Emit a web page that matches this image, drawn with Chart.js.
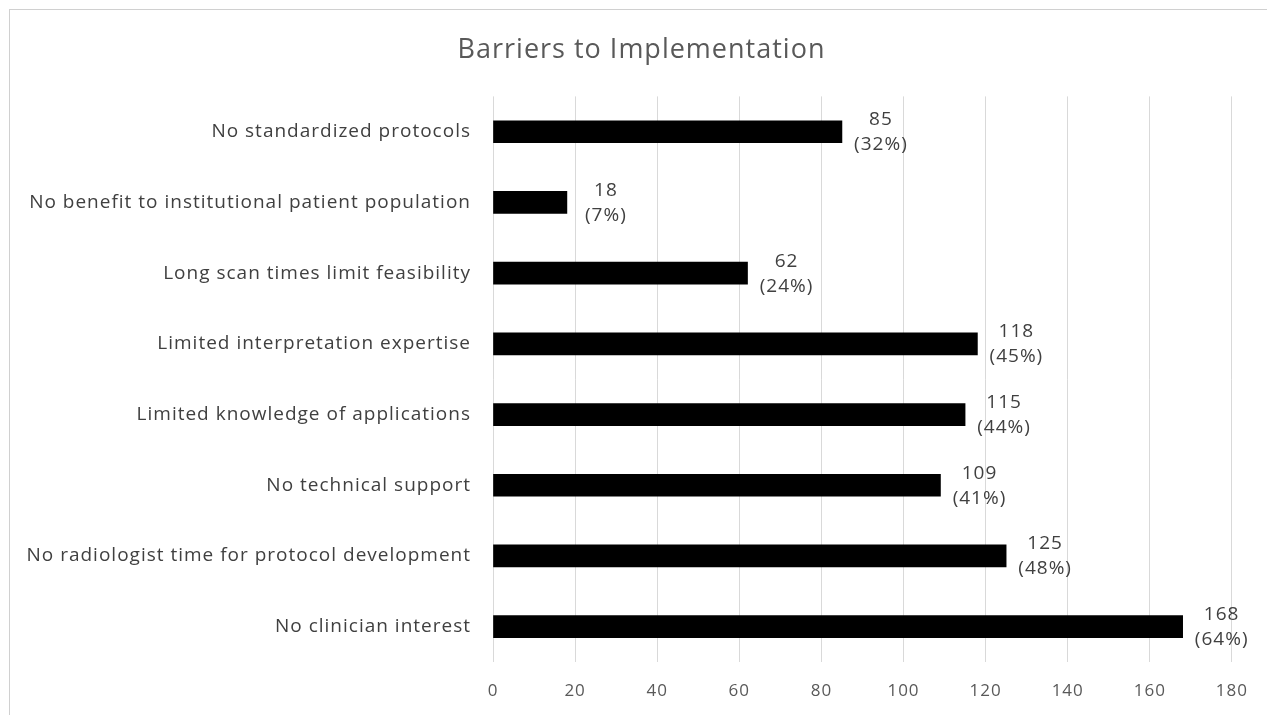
<!DOCTYPE html>
<html>
<head>
<meta charset="utf-8">
<script src="https://cdn.jsdelivr.net/npm/chart.js@4/dist/chart.umd.min.js"></script>
<style>
    html, body { margin: 0; padding: 0; background: #fff; }
    #wrap { position: relative; width: 1267px; height: 715px; overflow: hidden; }
    #frame { position: absolute; left: 9px; top: 9px; right: 0; bottom: 0;
             border-top: 1px solid #d0d0d0; border-left: 1px solid #d0d0d0; }
    canvas { position: absolute; left: 0; top: 0; }
</style>
</head>
<body>
<div id="wrap">
    <div id="frame"></div>
    <canvas id="bar-chart" width="1267" height="715"></canvas>
</div>
<script>
// Chart data (top to bottom as shown)
const barriers = [
    'No standardized protocols',
    'No benefit to institutional patient population',
    'Long scan times limit feasibility',
    'Limited interpretation expertise',
    'Limited knowledge of applications',
    'No technical support',
    'No radiologist time for protocol development',
    'No clinician interest'
];
const respondents = [85, 18, 62, 118, 115, 109, 125, 168];
const percents = ['32%', '7%', '24%', '45%', '44%', '41%', '48%', '64%'];
const xTicks = [0, 20, 40, 60, 80, 100, 120, 140, 160, 180];

const fontFamily = '"Open Sans", "Noto Sans", sans-serif';

// the original text is set loose, so space letters a little
// (canvas resizes reset the context, so set it on every pass)
const looseText = {
    id: 'looseText',
    beforeUpdate(chart) { chart.ctx.letterSpacing = '1px'; },
    beforeDraw(chart) { chart.ctx.letterSpacing = '1px'; },
    // title in the original sits a bit right of the canvas centre
    afterLayout(chart) {
        if (chart.titleBlock) {
            chart.titleBlock.left += 25;
            chart.titleBlock.right += 25;
        }
    }
};

// Draws "value\n(pct%)" to the right of each bar
const valueLabels = {
    id: 'valueLabels',
    afterDatasetsDraw(chart) {
        const ctx = chart.ctx;
        const meta = chart.getDatasetMeta(0);
        ctx.save();
        ctx.fillStyle = '#404040';
        ctx.font = '19px ' + fontFamily;
        ctx.textAlign = 'center';
        ctx.textBaseline = 'middle';
        meta.data.forEach((bar, i) => {
            const x = bar.x + 39;
            ctx.fillText(String(respondents[i]), x, bar.y - 12);
            ctx.fillText('(' + percents[i] + ')', x, bar.y + 13);
        });
        ctx.restore();
    }
};

const ctx = document.getElementById('bar-chart').getContext('2d');

const barChart = new Chart(ctx, {
    type: 'bar',
    data: {
        labels: barriers,
        datasets: [{
            data: respondents,
            backgroundColor: '#000000',
            borderWidth: 0,
            barThickness: 22
        }]
    },
    options: {
        indexAxis: 'y',
        responsive: false,
        devicePixelRatio: 1,
        animation: false,
        layout: { padding: { left: 0, right: 34, top: 0, bottom: 0 } },
        plugins: {
            legend: { display: false },
            tooltip: { enabled: false },
            title: {
                display: true,
                text: 'Barriers to Implementation',
                color: '#595959',
                font: { family: fontFamily, size: 27, weight: 'normal', lineHeight: 1.2 },
                padding: { top: 34, bottom: 30 }
            }
        },
        scales: {
            x: {
                min: 0,
                max: 180,
                afterBuildTicks: (scale) => { scale.ticks = xTicks.map(v => ({ value: v })); },
                afterFit: (scale) => { scale.height = 53; },
                grid: { color: '#d9d9d9', drawTicks: false, lineWidth: 1 },
                border: { display: false },
                ticks: {
                    color: '#595959',
                    padding: 19,
                    font: { family: fontFamily, size: 17 }
                }
            },
            y: {
                afterFit: (scale) => { scale.width = 493; },
                grid: { display: false, drawTicks: false },
                border: { display: false },
                ticks: {
                    color: '#404040',
                    padding: 22,
                    font: { family: fontFamily, size: 19 }
                }
            }
        }
    },
    plugins: [looseText, valueLabels]
});
</script>
</body>
</html>
